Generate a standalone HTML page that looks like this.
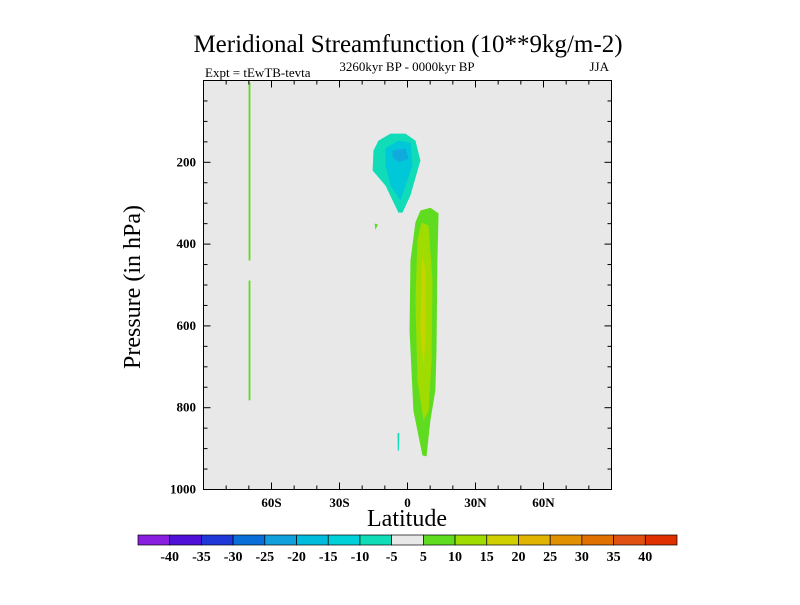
<!DOCTYPE html>
<html><head><meta charset="utf-8"><style>
body{margin:0;background:#fff;width:800px;height:600px;overflow:hidden}
svg text{font-family:"Liberation Serif",serif;fill:#000}
</style></head><body>
<svg id="chart" width="800" height="600">
<text x="408" y="52" font-size="25" text-anchor="middle">Meridional Streamfunction (10**9kg/m-2)</text>
<text x="205" y="77" font-size="13">Expt = tEwTB-tevta</text>
<text x="407" y="71" font-size="13" text-anchor="middle">3260kyr BP - 0000kyr BP</text>
<text x="609" y="71" font-size="13" text-anchor="end">JJA</text>
<rect x="203.5" y="80.5" width="408" height="409" fill="#e8e8e8"/>
<g id="fills"></g>
<g id="axes"></g>
<rect x="203.5" y="80.5" width="408" height="409" fill="none" stroke="#000" stroke-width="1"/>
<text x="140" y="287" font-size="24" text-anchor="middle" transform="rotate(-90 140 287)">Pressure (in hPa)</text>
<text x="407" y="526" font-size="24" text-anchor="middle">Latitude</text>
<g id="cbar"></g>
</svg>
<script>
const latTicks=[-60,-30,0,30,60];
const latLabels=["60S","30S","0","30N","60N"];
const presTicks=[200,400,600,800,1000];
const cbarLabels=["-40","-35","-30","-25","-20","-15","-10","-5","5","10","15","20","25","30","35","40"];
const cbarColors=["#8a1ee0","#5010d8","#2038d8","#0a6ed8","#10a0dc","#00bcdc","#00d0d8","#10dcb8","#e8e8e8","#60dc20","#a0dc00","#d0d000","#e0b400","#e09000","#e07000","#e05010","#e03000"];
const greenOuter=[[3.5,347],[5.7,318],[10.1,311],[13.7,325],[13.2,440],[12.8,660],[12.3,758],[10.1,831],[8.4,919],[6.6,917],[2.6,807],[0.9,611],[1.3,440]];
const greenInner=[[6.2,347],[9.3,355],[11.0,489],[10.6,685],[9.3,807],[7.1,831],[4.4,734],[3.5,538],[4.4,391]];
const yellowCore=[[6.6,428],[7.9,465],[7.9,636],[7.1,697],[5.7,611],[6.2,489]];
const tealBlob=[[-12.8,147],[-7.5,130],[-0.9,130],[3.5,147],[5.7,196],[1.3,281],[-2.2,323],[-4.0,323],[-9.7,257],[-15.4,220],[-15.0,171]];
const cyanBlob=[[-9.7,166],[-4.0,147],[1.3,152],[2.2,208],[-3.1,293],[-7.5,257],[-9.7,208]];
const blueBlob=[[-6.6,171],[-0.9,166],[0.4,191],[-4.0,200],[-6.6,186]];
const stripA=[[-70.1,5],[-69.3,5],[-69.3,440],[-70.1,440]];
const stripB=[[-70.1,489],[-69.3,489],[-69.3,782],[-70.1,782]];
const speckG=[[-14.5,350],[-13.0,352],[-14.2,365]];
const speckC=[[-4.4,862],[-3.6,862],[-3.8,905],[-4.3,905]];
const regions=[["#60dc20",greenOuter,"contour-5-10"],["#a0dc00",greenInner,"contour-10-15"],["#c8d400",yellowCore,"contour-15-20"],["#10dcb8",tealBlob,"contour-neg10-neg5"],["#00c8d8",cyanBlob,"contour-neg15-neg10"],["#10aadc",blueBlob,"contour-neg20-neg15"],["#60dc20",stripA,"strip-upper"],["#60dc20",stripB,"strip-lower"],["#60dc20",speckG,"speck-green"],["#10dcb8",speckC,"speck-cyan"]];
const X0=203.5,X1=611.5,Y0=80.5,Y1=489.5;
const xs=l=>X0+(l+90)/180*(X1-X0);
const ys=p=>Y0+p/1000*(Y1-Y0);
const NS="http://www.w3.org/2000/svg";
function mk(t,a,parent){const e=document.createElementNS(NS,t);for(const k in a)e.setAttribute(k,a[k]);parent.appendChild(e);return e;}
const fills=document.getElementById('fills');
regions.forEach(r=>{const e=mk('polygon',{points:r[1].map(p=>xs(p[0])+','+ys(p[1])).join(' '),fill:r[0]},fills);

});
const ax=document.getElementById('axes');
for(let l=-80;l<=80;l+=10){const maj=l%30===0;const len=maj?7:4;
const e1=mk('line',{x1:xs(l),x2:xs(l),y1:Y1,y2:Y1-len,stroke:'#000'},ax);


const e2=mk('line',{x1:xs(l),x2:xs(l),y1:Y0,y2:Y0+len,stroke:'#000'},ax);

}
latTicks.forEach((l,i)=>{const t=mk('text',{x:xs(l),y:507,'font-size':13,'font-weight':'bold','text-anchor':'middle'},ax);t.textContent=latLabels[i];

});
for(let p=50;p<1000;p+=50){const maj=p%200===0;const len=maj?7:4;
const e1=mk('line',{x1:X0,x2:X0+len,y1:ys(p),y2:ys(p),stroke:'#000'},ax);


const e2=mk('line',{x1:X1,x2:X1-len,y1:ys(p),y2:ys(p),stroke:'#000'},ax);

}
presTicks.forEach(p=>{const t=mk('text',{x:196,y:ys(p)+4,'font-size':13,'font-weight':'bold','text-anchor':'end'},ax);t.textContent=p;

});
const cb=document.getElementById('cbar');const CX=138,CW=539/cbarColors.length;
cbarColors.forEach((c,i)=>{const r=mk('rect',{x:CX+i*CW,y:535,width:CW,height:10,fill:c,stroke:'#000','stroke-width':0.7},cb);

});
cbarLabels.forEach((s,i)=>{const t=mk('text',{x:CX+(i+1)*CW,y:561,'font-size':14,'font-weight':'bold','text-anchor':'middle'},cb);t.textContent=s;

});
</script>
</body></html>
